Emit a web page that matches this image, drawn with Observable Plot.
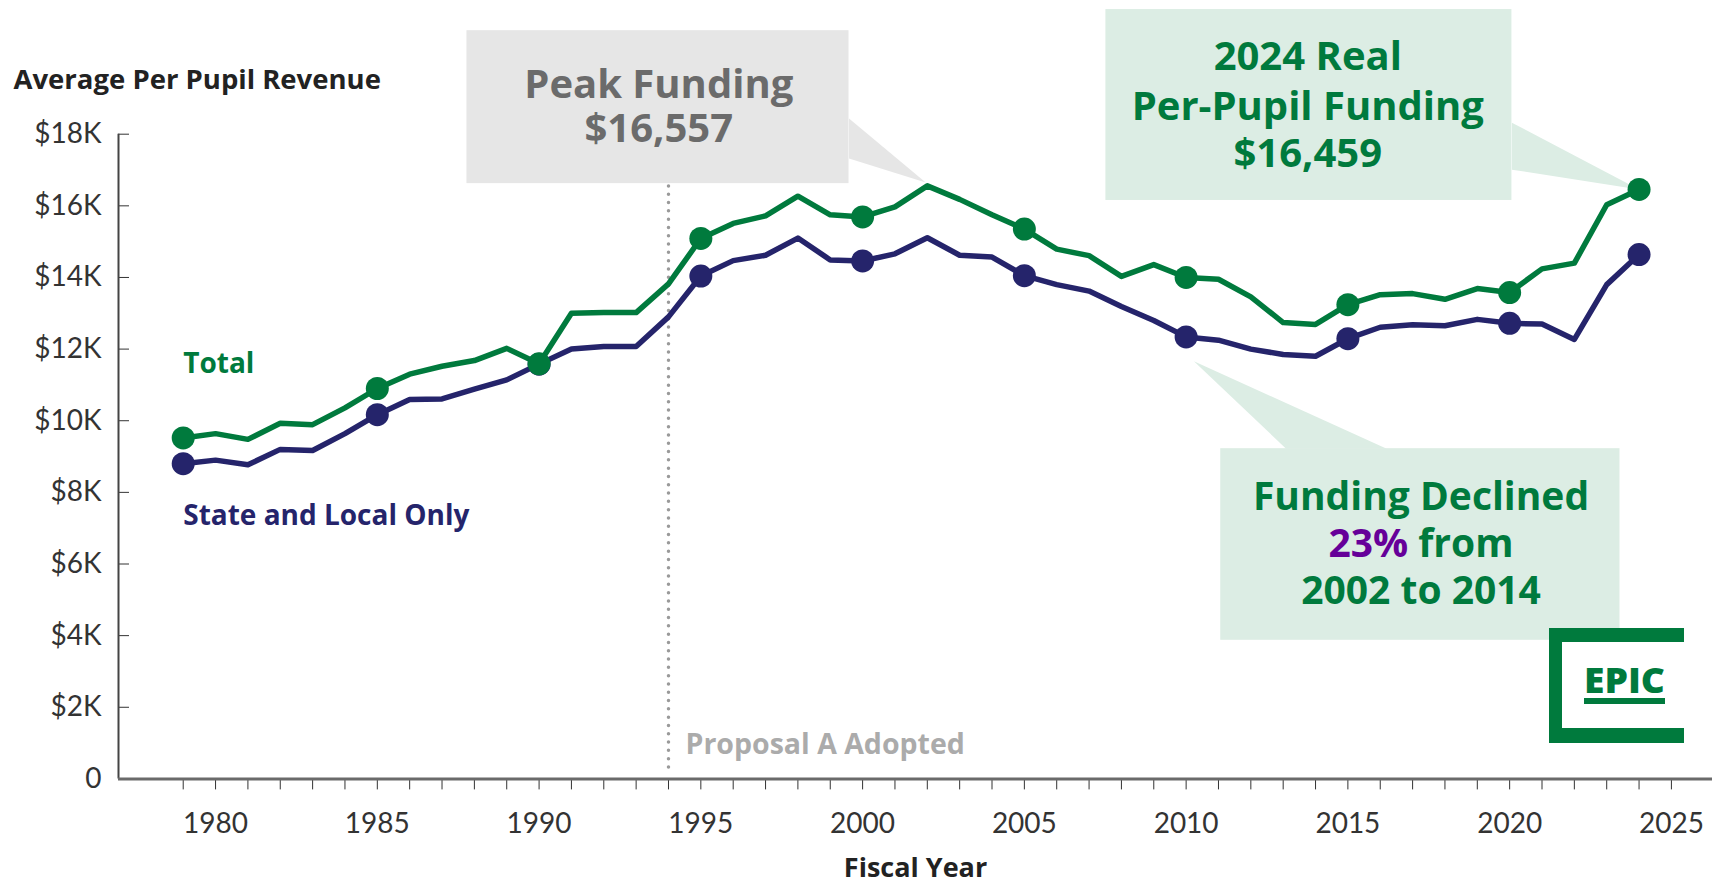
<!DOCTYPE html>
<html>
<head>
<meta charset="utf-8">
<script src="https://cdn.jsdelivr.net/npm/d3@7"></script>
<script src="https://cdn.jsdelivr.net/npm/@observablehq/plot@0.6"></script>
<style>
  html, body { margin: 0; padding: 0; background: #fff; }
  #wrap { position: relative; width: 1719px; height: 887px; overflow: hidden; }
  #logo { position: absolute; left: 1549px; top: 628px; }
</style>
</head>
<body>
<div id="wrap"></div>
<script>
// ---- Data (inflation-adjusted average per-pupil revenue, dollars) ----
const years = d3.range(1979, 2025);
const totalValues = [
  9520, 9640, 9480, 9930, 9890, 10360, 10900, 11300, 11520, 11680,
  12020, 11590, 13000, 13020, 13020, 13820, 15090, 15510, 15720, 16270,
  15750, 15690, 15970, 16557, 16180, 15750, 15350, 14790, 14610, 14030,
  14360, 14000, 13950, 13460, 12740, 12690, 13240, 13520, 13550, 13390,
  13690, 13580, 14240, 14400, 16030, 16459
];
const stateLocalValues = [
  8800, 8900, 8770, 9200, 9170, 9640, 10170, 10590, 10610, 10880,
  11140, 11580, 12000, 12070, 12070, 12900, 14040, 14470, 14620, 15100,
  14490, 14460, 14660, 15110, 14620, 14570, 14050, 13800, 13620, 13190,
  12800, 12340, 12250, 12000, 11850, 11800, 12290, 12610, 12680, 12650,
  12830, 12720, 12700, 12270, 13800, 14640
];
const markerYears = [1979, 1985, 1990, 1995, 2000, 2005, 2010, 2015, 2020, 2024];
const yTicks = d3.range(0, 18001, 2000);
const xTickYears = d3.range(1979, 2026);
const proposalYear = 1994;

// ---- Annotations (in data units) ----
const peakBox = [{x1: 1987.77, x2: 1999.58, y1: 16620, y2: 20890}];
const peakPointer = [
  {x: 1999.58, y: 18440}, {x: 1999.58, y: 17320}, {x: 2001.95, y: 16650}
];
const realBox = [{x1: 2007.52, x2: 2020.07, y1: 16150, y2: 21480}];
const realPointer = [
  {x: 2020.07, y: 18320}, {x: 2020.07, y: 17010}, {x: 2024, y: 16459}
];
const declineBox = [{x1: 2011.07, x2: 2023.41, y1: 3870, y2: 9220}];
const declinePointer = [
  {x: 2013.09, y: 9220}, {x: 2016.20, y: 9220}, {x: 2010.24, y: 11660}
];

const GREEN = "#007A3D";
const NAVY = "#25246B";
const BOXGREEN = "#DCEDE4";

const rows = years.map((year, i) => ({year, total: totalValues[i], state: stateLocalValues[i]}));
const markerRows = rows.filter(d => markerYears.includes(d.year));

const chart = Plot.plot({
  width: 1719,
  height: 887,
  marginLeft: 118,
  marginRight: 7,
  marginTop: 133.7,
  marginBottom: 108.6,
  x: {domain: [1977, 2026.27]},
  y: {domain: [0, 18000]},
  style: {fontFamily: "'Open Sans', sans-serif", background: "white", overflow: "visible"},
  marks: [
    // annotation boxes
    Plot.rect(peakBox, {x1: "x1", x2: "x2", y1: "y1", y2: "y2", fill: "#E6E6E6"}),
    Plot.line(peakPointer, {x: "x", y: "y", fill: "#E6E6E6", stroke: null}),
    Plot.rect(realBox, {x1: "x1", x2: "x2", y1: "y1", y2: "y2", fill: BOXGREEN}),
    Plot.line(realPointer, {x: "x", y: "y", fill: BOXGREEN, stroke: null}),
    Plot.rect(declineBox, {x1: "x1", x2: "x2", y1: "y1", y2: "y2", fill: BOXGREEN}),
    Plot.line(declinePointer, {x: "x", y: "y", fill: BOXGREEN, stroke: null}),

    // axes
    Plot.axisY({ticks: yTicks, tickSize: -11, tickPadding: 28, label: null,
      tickFormat: d => d === 0 ? "0" : `$${d / 1000}K`,
      fontSize: 28, color: "#333", fontFamily: "Lato, 'Open Sans', sans-serif"}),
    Plot.axisX({ticks: xTickYears, tickSize: 11, tickPadding: 23.6, label: null,
      tickFormat: d => d % 5 === 0 ? String(d) : "",
      fontSize: 28, color: "#333", fontFamily: "Lato, 'Open Sans', sans-serif"}),
    Plot.ruleX([1977], {y1: 0, y2: 18000, stroke: "#444", strokeWidth: 2}),
    Plot.ruleY([0], {stroke: "#6a6a6a", strokeWidth: 3}),

    // Proposal A marker
    Plot.ruleX([proposalYear], {y1: 320, y2: 16600, stroke: "#9a9a9a", strokeWidth: 3.5,
      strokeDasharray: "0,8.3", strokeLinecap: "round"}),
    Plot.text(["Proposal A Adopted"], {x: proposalYear, y: 960, dx: 17, textAnchor: "start",
      lineAnchor: "middle", fontSize: 28.5, fontWeight: 700, fill: "#ABABAB"}),

    // series
    Plot.line(rows, {x: "year", y: "state", stroke: NAVY, strokeWidth: 5.5}),
    Plot.line(rows, {x: "year", y: "total", stroke: GREEN, strokeWidth: 5.5}),
    Plot.dot(markerRows, {x: "year", y: "state", r: 11.5, fill: NAVY}),
    Plot.dot(markerRows, {x: "year", y: "total", r: 11.5, fill: GREEN}),

    // series labels
    Plot.text(["Total"], {x: 1979, y: 11570, textAnchor: "start", lineAnchor: "middle",
      fontSize: 28, fontWeight: 700, fill: GREEN}),
    Plot.text(["State and Local Only"], {x: 1979, y: 7350, textAnchor: "start", lineAnchor: "middle",
      fontSize: 28, fontWeight: 700, fill: NAVY}),

    // annotation texts
    Plot.text(["Peak Funding"], {x: 1993.70, y: 19370, textAnchor: "middle",
      lineAnchor: "middle", fontSize: 40, fontWeight: 700, fill: "#6B6B6B"}),
    Plot.text(["$16,557"], {x: 1993.70, y: 18130, textAnchor: "middle",
      lineAnchor: "middle", fontSize: 40, fontWeight: 700, fill: "#6B6B6B"}),
    Plot.text(["2024 Real"], {x: 2013.76, y: 20140, textAnchor: "middle",
      lineAnchor: "middle", fontSize: 40, fontWeight: 700, fill: GREEN}),
    Plot.text(["Per-Pupil Funding"], {x: 2013.76, y: 18760, textAnchor: "middle",
      lineAnchor: "middle", fontSize: 40, fontWeight: 700, fill: GREEN}),
    Plot.text(["$16,459"], {x: 2013.76, y: 17440, textAnchor: "middle",
      lineAnchor: "middle", fontSize: 40, fontWeight: 700, fill: GREEN}),
    Plot.text(["Funding Declined"], {x: 2017.26, y: 7867, textAnchor: "middle", lineAnchor: "middle",
      fontSize: 39, fontWeight: 700, fill: GREEN}),
    Plot.text(["23%"], {x: 2017.02, y: 6549, dx: -5, textAnchor: "end", lineAnchor: "middle",
      fontSize: 39, fontWeight: 700, fill: "#660099"}),
    Plot.text(["from"], {x: 2017.02, y: 6549, dx: 5, textAnchor: "start", lineAnchor: "middle",
      fontSize: 39, fontWeight: 700, fill: GREEN}),
    Plot.text(["2002 to 2014"], {x: 2017.26, y: 5234, textAnchor: "middle", lineAnchor: "middle",
      fontSize: 39, fontWeight: 700, fill: GREEN}),

    // titles
    Plot.text(["Average Per Pupil Revenue"], {frameAnchor: "top-left", dx: -105, dy: -54,
      textAnchor: "start", lineAnchor: "middle", fontSize: 27.5, fontWeight: 700, fill: "#222"}),
    Plot.text(["Fiscal Year"], {frameAnchor: "bottom", dy: 89, textAnchor: "middle",
      lineAnchor: "middle", fontSize: 27, fontWeight: 700, fill: "#222"})
  ]
});

const wrap = document.getElementById("wrap");
wrap.appendChild(chart);

// EPIC logo
const ns = "http://www.w3.org/2000/svg";
const logo = document.createElementNS(ns, "svg");
logo.setAttribute("id", "logo");
logo.setAttribute("width", 135);
logo.setAttribute("height", 115);
logo.innerHTML = `
  <rect x="0" y="0" width="135" height="14" fill="${GREEN}"/>
  <rect x="0" y="0" width="13" height="115" fill="${GREEN}"/>
  <rect x="0" y="100" width="135" height="15" fill="${GREEN}"/>
  <text x="35" y="65" font-family="'Open Sans', sans-serif" font-weight="800" font-size="35"
        fill="${GREEN}" textLength="81" lengthAdjust="spacingAndGlyphs">EPIC</text>
  <rect x="35" y="70" width="81" height="6" fill="${GREEN}"/>`;
wrap.appendChild(logo);
</script>
</body>
</html>
